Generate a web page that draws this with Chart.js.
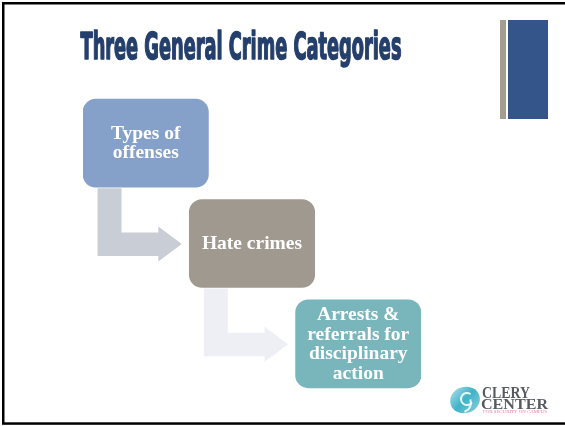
<!DOCTYPE html>
<html>
<head>
<meta charset="utf-8">
<script src="https://cdn.jsdelivr.net/npm/chart.js@4"></script>
<style>
  html, body { margin: 0; padding: 0; background: #fff; }
  #flowChart { display: block; }
</style>
</head>
<body>
<canvas id="flowChart" width="565" height="426"></canvas>
<script>
// slide data
const titleText = 'Three General Crime Categories';
const stages = ['Types of offenses', 'Hate crimes', 'Arrests & referrals for disciplinary action'];
const stageLines = [['Types of', 'offenses'], ['Hate crimes'], ['Arrests &', 'referrals for', 'disciplinary', 'action']];
const stageStep = [1, 2, 3];
const stageColors = ['#86a1c9', '#a0998f', '#79b6bc'];
const arrowColors = ['#c9cdd6', '#eeeff5'];

const BOX_SPAN = 1.18;

// background, frame, title, side bars and logo
const slidePlugin = {
  id: 'slide',
  beforeDraw(chart) {
    const ctx = chart.ctx;
    ctx.save();
    ctx.fillStyle = '#ffffff';
    ctx.fillRect(0, 0, chart.width, chart.height);
    ctx.restore();
  },
  afterDraw(chart) {
    const ctx = chart.ctx;
    ctx.save();

    // frame
    ctx.fillStyle = '#000000';
    ctx.fillRect(2, 2, 563, 2.5);
    ctx.fillRect(2, 2, 2.5, 422);
    ctx.fillRect(2, 422.3, 563, 2.5);

    // side bars
    ctx.fillStyle = '#a39c92';
    ctx.fillRect(500, 20, 6, 99);
    ctx.fillStyle = '#34558a';
    ctx.fillRect(508, 20, 40, 99);

    // title, squeezed to look condensed, stroked to look heavier
    ctx.font = 'bold 37px "DejaVu Sans Condensed", "Liberation Sans Narrow", sans-serif';
    ctx.fillStyle = '#253f6c';
    ctx.strokeStyle = '#253f6c';
    ctx.lineWidth = 1.6;
    ctx.lineJoin = 'round';
    ctx.textBaseline = 'alphabetic';
    ctx.textAlign = 'left';
    const tw = ctx.measureText(titleText).width;
    const sx = 321 / tw;
    ctx.translate(80.5, 59);
    ctx.scale(sx, 1);
    ctx.fillText(titleText, 0, 0);
    ctx.strokeText(titleText, 0, 0);
    ctx.restore();

    drawLogo(ctx);
  }
};

function drawLogo(ctx) {
  ctx.save();
  // swirl icon
  const cx = 465, cy = 400;
  const g = ctx.createLinearGradient(450, 386, 480, 413);
  g.addColorStop(0, '#b9e3ec');
  g.addColorStop(0.5, '#3fb3c8');
  g.addColorStop(1, '#8fd0dc');
  ctx.fillStyle = g;
  ctx.beginPath();
  ctx.ellipse(cx, cy, 15, 13, -0.3, 0, Math.PI * 2);
  ctx.fill();
  ctx.strokeStyle = 'rgba(255,255,255,0.85)';
  ctx.lineWidth = 2;
  ctx.beginPath();
  ctx.arc(cx + 2, cy - 1, 6, 0.6, Math.PI * 1.7);
  ctx.stroke();
  ctx.beginPath();
  ctx.arc(cx - 3, cy + 3, 9, -0.4, 1.3);
  ctx.stroke();

  // logo words
  ctx.fillStyle = '#575b61';
  ctx.textBaseline = 'alphabetic';
  ctx.font = 'bold 17px "Liberation Serif", serif';
  let w = ctx.measureText('CLERY').width;
  ctx.save();
  ctx.translate(482, 398);
  ctx.scale(48 / w, 1);
  ctx.fillText('CLERY', 0, 0);
  ctx.restore();

  ctx.font = 'bold 14px "Liberation Serif", serif';
  w = ctx.measureText('CENTER').width;
  ctx.save();
  ctx.translate(481, 408.5);
  ctx.scale(67 / w, 1);
  ctx.fillText('CENTER', 0, 0);
  ctx.restore();

  ctx.fillStyle = '#e57ea6';
  ctx.font = '4px "Liberation Serif", serif';
  w = ctx.measureText('FOR SECURITY ON CAMPUS').width;
  ctx.save();
  ctx.translate(483, 413);
  ctx.scale(64 / w, 1);
  ctx.fillText('FOR SECURITY ON CAMPUS', 0, 0);
  ctx.restore();
  ctx.restore();
}

// bent arrows from each box to the next one
const arrowPlugin = {
  id: 'bentArrows',
  beforeDatasetsDraw(chart) {
    const ctx = chart.ctx;
    const bars = chart.getDatasetMeta(0).data;
    ctx.save();
    for (let i = 0; i < bars.length - 1; i++) {
      const a = bars[i], b = bars[i + 1];
      const L = Math.min(a.x, a.base);
      const bottom = a.y + a.height / 2;
      const nL = Math.min(b.x, b.base);
      const C = b.y + 0.5;
      const x1 = L + 14.5, x2 = L + 38.5;
      const hb = nL - 31, tip = nL - 7.5;
      ctx.fillStyle = arrowColors[i];
      ctx.beginPath();
      ctx.moveTo(x1, bottom + 1);
      ctx.lineTo(x2, bottom + 1);
      ctx.lineTo(x2, C - 11.5);
      ctx.lineTo(hb, C - 11.5);
      ctx.lineTo(hb, C - 17.5);
      ctx.lineTo(tip, C);
      ctx.lineTo(hb, C + 17.5);
      ctx.lineTo(hb, C + 12);
      ctx.lineTo(x1, C + 12);
      ctx.closePath();
      ctx.fill();
    }
    ctx.restore();
  }
};

// white labels inside the boxes
const labelPlugin = {
  id: 'boxLabels',
  afterDatasetsDraw(chart) {
    const ctx = chart.ctx;
    const bars = chart.getDatasetMeta(0).data;
    ctx.save();
    ctx.fillStyle = '#ffffff';
    ctx.font = 'bold 19.5px "Liberation Serif", serif';
    ctx.textAlign = 'center';
    ctx.textBaseline = 'alphabetic';
    bars.forEach((bar, i) => {
      const lines = stageLines[i];
      const cx = (bar.x + bar.base) / 2;
      lines.forEach((line, j) => {
        const y = bar.y + (j - (lines.length - 1) / 2) * 19.5 + 5.5;
        ctx.fillText(line, cx, y);
      });
    });
    ctx.restore();
  }
};

const flowChart = new Chart(
  document.getElementById('flowChart'),
  {
    type: 'bar',
    data: {
      labels: stages,
      datasets: [{
        data: stageStep.map(s => [s - 1, s - 1 + BOX_SPAN]),
        backgroundColor: stageColors,
        borderWidth: 0,
        borderRadius: 13,
        borderSkipped: false,
        barThickness: 88
      }]
    },
    options: {
      indexAxis: 'y',
      responsive: false,
      animation: false,
      layout: {
        padding: { left: 83, right: 144, top: 93, bottom: 32 }
      },
      plugins: {
        legend: { display: false },
        tooltip: { enabled: false }
      },
      scales: {
        x: { type: 'linear', min: 0, max: 2 + BOX_SPAN, display: false },
        y: { display: false }
      }
    },
    plugins: [slidePlugin, arrowPlugin, labelPlugin]
  }
);
</script>
</body>
</html>
